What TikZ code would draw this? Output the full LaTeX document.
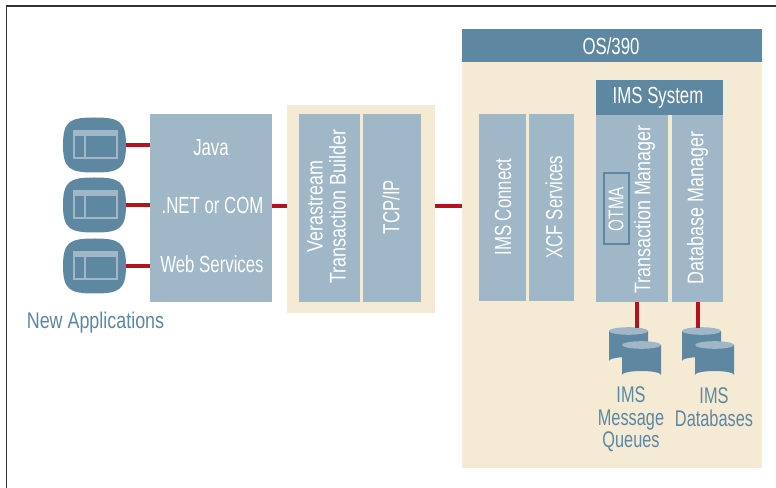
\documentclass[tikz,border=0pt]{standalone}
\usepackage{fontspec}
\setmainfont[FakeStretch=0.72]{Liberation Sans}
\newfontfamily\widefont[FakeStretch=0.79]{Liberation Sans}
\usetikzlibrary{shapes.geometric}
\definecolor{steel}{HTML}{5E87A1}
\definecolor{pale}{HTML}{9FB7C6}
\definecolor{cream}{HTML}{F5EBD5}
\definecolor{wire}{HTML}{B5121F}
\tikzstyle{panel}=[fill=pale, inner sep=0pt]
\tikzstyle{back}=[fill=cream, inner sep=0pt]
\tikzstyle{head}=[fill=steel, inner sep=0pt, text=white, font=\fontsize{17.5}{18}\selectfont]
\tikzstyle{note}=[text=steel, inner sep=0pt, align=center, font=\fontsize{17}{17}\selectfont]
\tikzstyle{link}=[draw=wire, line width=3.2pt]
\tikzstyle{label}=[inner sep=0pt, text=white, align=center, font=\fontsize{17.5}{17.3}\selectfont]
\tikzstyle{longlabel}=[inner sep=0pt, text=white, align=center, font=\fontsize{17}{17.3}\widefont]
\begin{document}
\begin{tikzpicture}[x=0.75pt, y=-0.75pt]
        \useasboundingbox (0,0) rectangle (776,488);
        \fill[white] (0,0) rectangle (776,488);
        \draw[line width=1.4pt, color=black!80] (6.5,488) -- (6.5,6) -- (776,6);

        % Fondos
        \node[back, minimum width=148*0.75pt, minimum height=208*0.75pt] (gateway) at (361,209) {};
        \node[back, minimum width=300*0.75pt, minimum height=406*0.75pt] (host) at (612,265) {};
        \node[fill=steel, inner sep=0pt, minimum width=300*0.75pt, minimum height=33*0.75pt] (os) at (612,45.5) {};
        \node[head, fill=none] (ostext) at (611,46.5) {OS/390};

        % Cajas
        \node[panel, minimum width=122*0.75pt, minimum height=188*0.75pt] (api) at (211,208) {};
        \node[label] (java) at (211,148) {Java};
        \node[label] (net) at (212.5,205) {.NET or COM};
        \node[label] (web) at (212,264.5) {Web Services};
        \node[panel, minimum width=61*0.75pt, minimum height=188*0.75pt] (vera) at (329.5,208) {};
        \node[longlabel, rotate=90] (veratext) at (326.5,206.5) {Verastream\\Transaction Builder};
        \node[panel, minimum width=58*0.75pt, minimum height=188*0.75pt] (tcp) at (392,208) {};
        \node[label, rotate=90] (tcptext) at (391,207) {TCP/IP};
        \node[panel, minimum width=47*0.75pt, minimum height=187*0.75pt] (connect) at (502.5,207.5) {};
        \node[label, rotate=90] (connecttext) at (503,207) {IMS Connect};
        \node[panel, minimum width=45*0.75pt, minimum height=187*0.75pt] (xcf) at (551.5,207.5) {};
        \node[label, rotate=90] (xcftext) at (554,207) {XCF Services};
        \node[fill=steel, inner sep=0pt, minimum width=127*0.75pt, minimum height=35*0.75pt] (ims) at (659.5,97.5) {};
        \node[head, fill=none] (imstext) at (658,98) {IMS System};
        \node[panel, minimum width=72*0.75pt, minimum height=187*0.75pt] (tm) at (632,208.5) {};
        \node[longlabel, rotate=90] (tmtext) at (644.5,209.5) {Transaction Manager};
        \node[panel, minimum width=51*0.75pt, minimum height=187*0.75pt] (db) at (697.5,208.5) {};
        \node[longlabel, rotate=90] (dbtext) at (697.5,208) {Database Manager};
        \node[draw=steel, line width=1.5pt, inner sep=0pt, minimum width=71*0.75pt, minimum height=25*0.75pt, rotate=90, text=white, font=\fontsize{16}{17}\selectfont] (otma) at (616,209) {OTMA};

        % Aplicaciones
        \foreach \y/\name in {145/a,205/b,266/c} {
            \fill[steel] (63,\y) .. controls (63,\y-24) and (70,\y-27.5) .. (94.5,\y-27.5) .. controls (119,\y-27.5) and (126,\y-24) .. (126,\y) .. controls (126,\y+24) and (119,\y+27.5) .. (94.5,\y+27.5) .. controls (70,\y+27.5) and (63,\y+24) .. (63,\y) -- cycle;
            \draw[pale, line width=1pt] (74,\y-14) rectangle (117,\y+13) (85,\y-9) -- (85,\y+13);
            \fill[pale] (73,\y-15) rectangle (118,\y-9);
            \coordinate (app\name) at (126,\y);
        }
        \node[note, font=\fontsize{17}{17}\widefont] (apps) at (95.5,323) {New Applications};

        % Colas
        \foreach \x/\y in {628.5/331,641.5/345,701.5/331,714.5/345} {
            \fill[steel] (\x-19.5,\y) -- (\x-19.5,\y+30) arc[start angle=180, end angle=360, x radius=19.5, y radius=4] -- (\x+19.5,\y) -- cycle;
            \fill[pale] (\x,\y) ellipse[x radius=19.5, y radius=3.8];
        }
        \coordinate (queuetop) at (637,328);
        \coordinate (basetop) at (698,328);
        \node[note] (queues) at (631,419.5) {IMS\\Message\\Queues};
        \node[note] (bases) at (714,407.5) {IMS\\Databases};

        % Conexiones
        \draw[link] (appa) -- (api.west |- appa);
        \draw[link] (appb) -- (api.west |- appb);
        \draw[link] (appc) -- (api.west |- appc);
        \draw[link] (api.east |- net) ++(0,1) -- (gateway.west |- 0,206);
        \draw[link] (gateway.east |- 0,206) -- (host.west |- 0,206);
        \draw[link] (tm.south -| queuetop) -- (queuetop);
        \draw[link] (db.south -| basetop) -- (basetop);
\end{tikzpicture}
\end{document}
